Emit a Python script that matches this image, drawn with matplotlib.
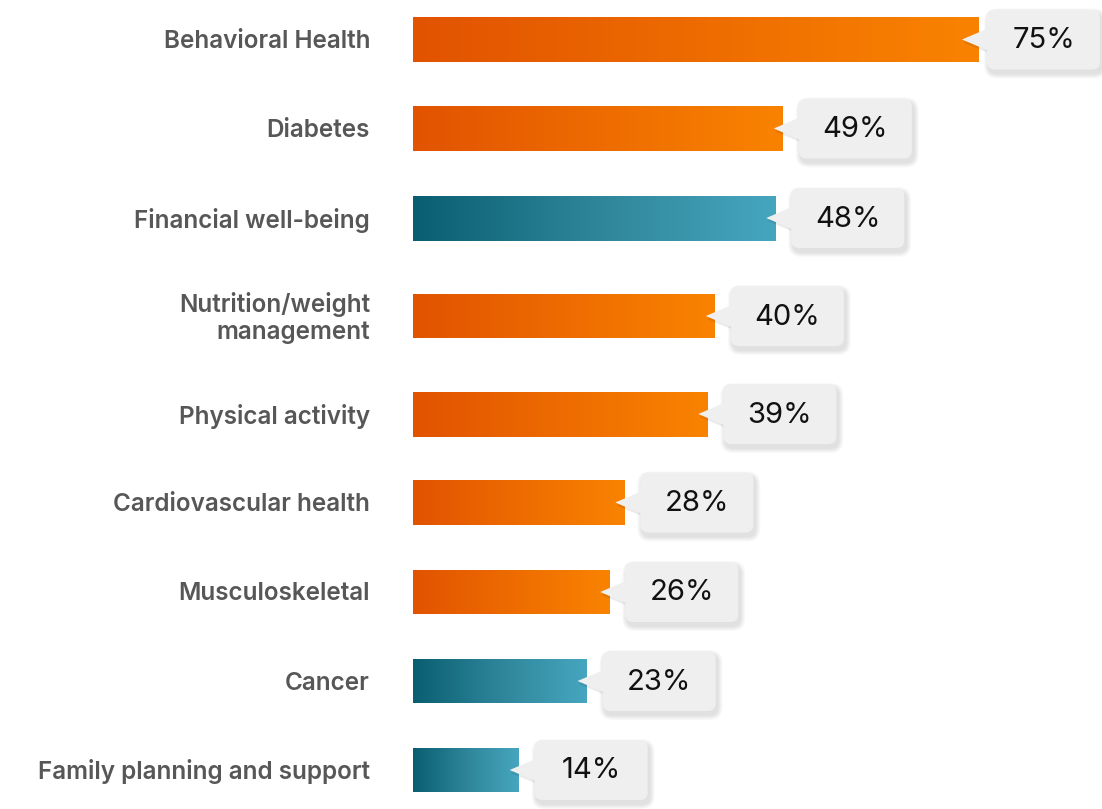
import numpy as np
import matplotlib
matplotlib.use("Agg")
import matplotlib.pyplot as plt
import matplotlib.transforms as mtransforms
from matplotlib.colors import LinearSegmentedColormap
from matplotlib.patches import FancyBboxPatch, Polygon

# data
categories = ["Behavioral Health", "Diabetes", "Financial well-being",
              "Nutrition/weight\nmanagement", "Physical activity",
              "Cardiovascular health", "Musculoskeletal", "Cancer",
              "Family planning and support"]
values = [75, 49, 48, 40, 39, 28, 26, 23, 14]
groups = ["orange", "orange", "teal", "orange", "orange",
          "orange", "orange", "teal", "teal"]

# layout (pixel rows, top down)
rows = [39.5, 128.5, 218, 316, 414, 502.5, 592, 681, 770]
bar_h = 45
px_per_pct = (979 - 413) / 75.0

cmaps = {
    "orange": LinearSegmentedColormap.from_list("o", ["#E25300", "#F98300"]),
    "teal": LinearSegmentedColormap.from_list("t", ["#0A5E71", "#2E8599", "#46A6BF"]),
}

fig = plt.figure(figsize=(11.02, 8.09), dpi=100)
ax = fig.add_axes([0, 0, 1, 1])
xmin = -413 / px_per_pct
xmax = (1102 - 413) / px_per_pct
ax.set_xlim(xmin, xmax)
ax.set_ylim(809, 0)
ax.axis("off")

bars = ax.barh(rows, values, height=bar_h, color="none", edgecolor="none")
grad = np.linspace(0, 1, 256).reshape(1, -1)
for b, g in zip(bars, groups):
    x0, y0 = b.get_x(), b.get_y()
    im = ax.imshow(grad, cmap=cmaps[g], aspect="auto",
                   extent=(x0, x0 + b.get_width(), y0 + b.get_height(), y0),
                   interpolation="bicubic", zorder=2)
    im.set_clip_path(b)
ax.set_xlim(xmin, xmax)
ax.set_ylim(809, 0)

# category labels
for cat, y in zip(categories, rows):
    ax.annotate(cat, (0, y), xytext=(-43, -2), textcoords="offset pixels",
                ha="right", va="center", fontsize=17.5, fontweight="semibold",
                family="Inter", color="#575757", linespacing=1.2)

# callouts
box_w, box_h = 113, 60
for v, y in zip(values, rows):
    left = min(v + 16 / px_per_pct, xmax - (box_w + 2) / px_per_pct)
    t = mtransforms.Affine2D() + mtransforms.ScaledTranslation(left, y, ax.transData)
    for k in range(5):
        e = 5 - k
        ax.add_patch(FancyBboxPatch((2 - e, -box_h / 2 - 4 - e), box_w + 2 * e, box_h + 2 * e,
                                    boxstyle="round,pad=0,rounding_size=%d" % (8 + e),
                                    transform=t, facecolor="black", edgecolor="none",
                                    alpha=0.025, zorder=3))
    ax.add_patch(Polygon([(3, 11.5), (-25, 0), (3, -11.5)], closed=True,
                         transform=t + mtransforms.Affine2D().translate(1, -3),
                         facecolor="black", alpha=0.08, edgecolor="none", zorder=3))
    ax.add_patch(FancyBboxPatch((0, -box_h / 2), box_w, box_h,
                                boxstyle="round,pad=0,rounding_size=8", transform=t,
                                facecolor="#EFEFEF", edgecolor="none", zorder=4))
    ax.add_patch(Polygon([(2, 11.5), (-25, 0), (2, -11.5)], closed=True, transform=t,
                         facecolor="#EFEFEF", edgecolor="none", zorder=4))
    ax.annotate("%d%%" % v, (left, y), xytext=(box_w / 2, -1), textcoords="offset pixels",
                ha="center", va="center", fontsize=21, family="Inter",
                color="#111111", zorder=5)

fig.savefig("out.png", dpi=100, facecolor="white")
